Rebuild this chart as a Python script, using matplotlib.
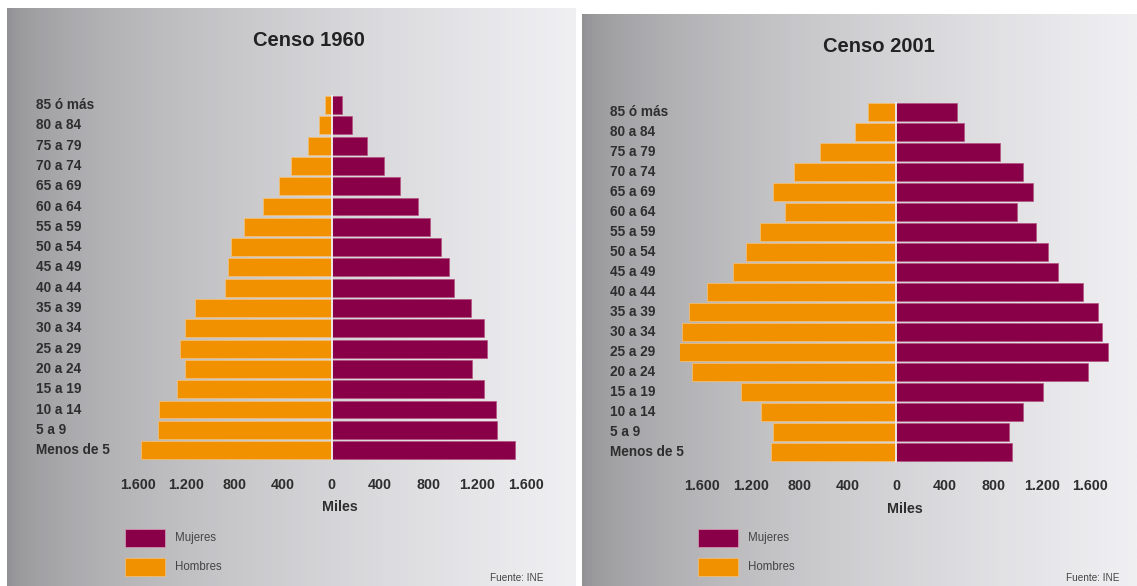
import matplotlib
matplotlib.use('Agg')
import matplotlib.pyplot as plt
import numpy as np

plt.rcParams['font.family'] = ['Liberation Sans', 'DejaVu Sans']

# GRUPOS DE EDAD (de abajo a arriba)
edades = ['Menos de 5', '5 a 9', '10 a 14', '15 a 19', '20 a 24', '25 a 29',
          '30 a 34', '35 a 39', '40 a 44', '45 a 49', '50 a 54', '55 a 59',
          '60 a 64', '65 a 69', '70 a 74', '75 a 79', '80 a 84', '85 ó más']

# CENSO 1960 (miles)
hombres_1960 = [1571, 1433, 1424, 1277, 1208, 1254, 1208, 1124, 882, 854,
                827, 722, 570, 438, 332, 195, 108, 57]
mujeres_1960 = [1512, 1365, 1359, 1254, 1155, 1284, 1254, 1152, 1008, 966,
                900, 810, 714, 567, 435, 288, 165, 84]

# CENSO 2001 (miles)
hombres_2001 = [1035, 1017, 1116, 1283, 1685, 1838, 1770, 1713, 1558, 1346,
                1238, 1124, 919, 1015, 845, 629, 337, 233]
mujeres_2001 = [952, 928, 1047, 1214, 1582, 1748, 1695, 1668, 1545, 1334,
                1250, 1157, 993, 1128, 1050, 856, 561, 504]

ticks = [-1600, -1200, -800, -400, 0, 400, 800, 1200, 1600]
tick_labels = ['1.600', '1.200', '800', '400', '0', '400', '800', '1.200', '1.600']

col_muj = '#8a0048'
col_hom = '#f29100'
col_txt = '#2e2e2e'

W, H = 1137, 586
fig = plt.figure(figsize=(W / 100, H / 100), dpi=100)
fig.patch.set_facecolor('white')


def fx(px):
    return px / W


def fy(py):
    return 1 - py / H


def fondo(x0, x1, y0, y1):
    # fondo degradado gris
    bg = fig.add_axes([fx(x0), fy(y1), fx(x1 - x0), (y1 - y0) / H])
    t = np.linspace(0, 1, 400) ** 0.6
    g = (145 + 95 * t) / 255.0
    img = np.dstack([g, g, g + 0.012]).clip(0, 1)
    bg.imshow(img, aspect='auto', extent=[0, 1, 0, 1])
    bg.set_axis_off()
    return bg


def piramide(centro, escala, x_izq, x_der, y_top, paso, hombres, mujeres,
             titulo, titulo_x, titulo_y, lab_x, leg_x, fuente_x):
    n = len(edades)
    top = y_top - paso / 2
    bot = top + n * paso
    ax = fig.add_axes([fx(x_izq), fy(bot), fx(x_der - x_izq), (bot - top) / H])
    ax.set_xlim((x_izq - centro) * escala, (x_der - centro) * escala)
    ax.set_ylim(-0.5, n - 0.5)
    y = np.arange(n)
    ax.barh(y, [-v for v in hombres], height=0.88, color=col_hom,
            edgecolor='#f7c27a', linewidth=0.5)
    ax.barh(y, mujeres, height=0.88, color=col_muj,
            edgecolor='#b3537f', linewidth=0.5)
    ax.axvline(0, color='#f0f0f0', linewidth=1.3)
    ax.set_facecolor('none')
    for s in ax.spines.values():
        s.set_visible(False)
    ax.set_yticks([])
    ax.set_xticks(ticks)
    ax.set_xticklabels(tick_labels, fontsize=10.3, fontweight='bold', color=col_txt)
    ax.tick_params(axis='x', length=0, pad=12.5)
    ax.set_xlabel('Miles', fontsize=10.3, fontweight='bold', color=col_txt, labelpad=6)

    # etiquetas de edad alineadas a la izquierda
    ax_x = (lab_x - x_izq) / (x_der - x_izq)
    for i, lab in enumerate(edades):
        ax.text(ax_x, i, lab, transform=ax.get_yaxis_transform(), ha='left',
                va='center', fontsize=9.8, fontweight='bold', color=col_txt)

    fig.text(fx(titulo_x), fy(titulo_y), titulo, ha='center', va='center',
             fontsize=14.5, fontweight='bold', color='#222222')

    # leyenda
    for yc, lab, col in [(537.5, 'Mujeres', col_muj), (566.5, 'Hombres', col_hom)]:
        fig.patches.append(plt.Rectangle((fx(leg_x), fy(yc + 9)), fx(40), 18 / H,
                                         transform=fig.transFigure, facecolor=col,
                                         edgecolor='#d9a0b8' if col == col_muj else '#f5c07a',
                                         linewidth=0.5))
        fig.text(fx(leg_x + 50), fy(yc), lab, ha='left', va='center',
                 fontsize=8.3, color='#444444')
    fig.text(fx(fuente_x), fy(578), 'Fuente: INE', ha='right', va='center',
             fontsize=7.2, color='#444444')
    return ax


fondo(7, 576, 8, 586)
fondo(582, 1137, 14, 586)

piramide(331.6, 8.25, 110, 570, 105, 20.3, hombres_1960, mujeres_1960,
         'Censo 1960', 309, 41, 36, 125, 543)
piramide(896.2, 8.25, 680, 1130, 112, 20.0, hombres_2001, mujeres_2001,
         'Censo 2001', 879, 46, 610, 698, 1119)

fig.savefig('out.png', dpi=100, facecolor='white')
